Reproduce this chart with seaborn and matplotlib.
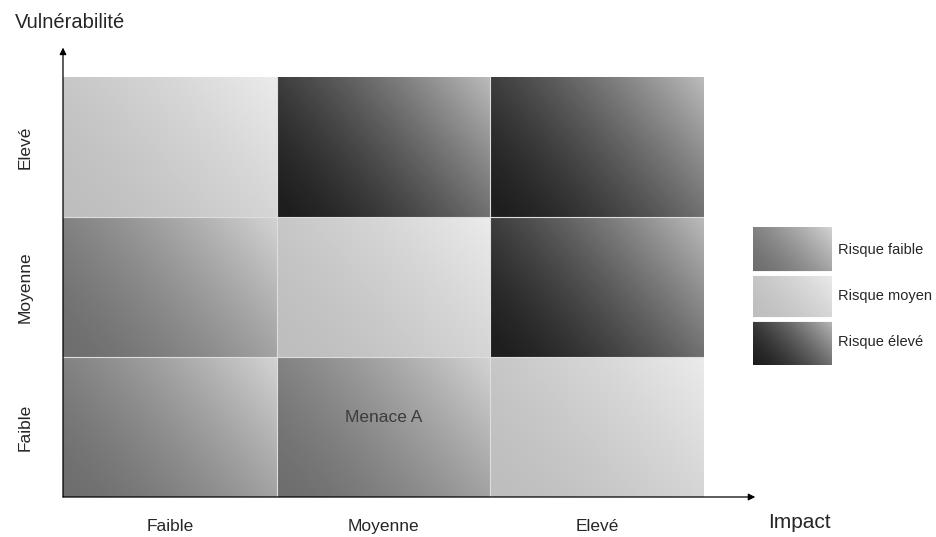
import numpy as np
import pandas as pd
import matplotlib
matplotlib.use('Agg')
import matplotlib.pyplot as plt
from matplotlib.colors import ListedColormap, LinearSegmentedColormap
import seaborn as sns

# ── Data ───────────────────────────────────────────────────────
impact_labels = ['Faible', 'Moyenne', 'Elevé']
vuln_labels = ['Elevé', 'Moyenne', 'Faible']          # top -> bottom
# 0 = Risque faible, 1 = Risque moyen, 2 = Risque élevé
risk_levels = [
    [1, 2, 2],
    [0, 1, 2],
    [0, 0, 1],
]
legend_labels = ['Risque faible', 'Risque moyen', 'Risque élevé']
threat_name = 'Menace A'
threat_cell = ('Faible', 'Moyenne')                   # (vulnérabilité, impact)

level_colors = ['#6e6e6e', '#bebebe', '#1e1e1e']

sns.set_style('white')
plt.rcParams['font.family'] = ['Liberation Sans', 'DejaVu Sans']

risk_cmap = ListedColormap(level_colors)
shade_cmap = LinearSegmentedColormap.from_list(
    'shade', [(1, 1, 1, 0.0), (1, 1, 1, 0.7)])


def shade_cells(ax, n_rows, n_cols):
    # each cell lightens toward its top right corner
    u = np.linspace(0, 1, 120)
    v = np.linspace(1, 0, 80)
    U, V = np.meshgrid(u, v)
    grad = (0.65 * U + 0.35 * V) ** 1.5
    for i in range(n_rows):
        for j in range(n_cols):
            ax.imshow(grad, extent=(j, j + 1, i + 1, i), cmap=shade_cmap,
                      vmin=0, vmax=1, aspect='auto', zorder=2,
                      interpolation='bilinear')
    ax.set_xlim(0, n_cols)
    ax.set_ylim(n_rows, 0)


fig = plt.figure(figsize=(9.37, 5.37), dpi=100)
ax = fig.add_axes([63 / 937, 1 - 497 / 537, 641 / 937, 420 / 537])

risk_df = pd.DataFrame(risk_levels, index=vuln_labels, columns=impact_labels)
sns.heatmap(risk_df, cmap=risk_cmap, vmin=-0.5, vmax=2.5, cbar=False,
            linewidths=0, ax=ax)
shade_cells(ax, len(vuln_labels), len(impact_labels))

# thin light separators between cells
for k in range(1, len(impact_labels)):
    ax.axvline(k, color='#dedede', lw=0.8, zorder=3)
for k in range(1, len(vuln_labels)):
    ax.axhline(k, color='#dedede', lw=0.8, zorder=3)

ax.set_xticklabels(impact_labels, fontsize=12.5, rotation=0)
ax.set_yticklabels(vuln_labels, fontsize=12.5, rotation=90, va='center')
ax.tick_params(axis='x', length=0, pad=16)
ax.tick_params(axis='y', length=0, pad=22)
ax.set_xlabel('')
ax.set_ylabel('')
for s in ax.spines.values():
    s.set_visible(False)

# threat marker
r = vuln_labels.index(threat_cell[0])
c = impact_labels.index(threat_cell[1])
ax.text(c + 0.5, r + 0.43, threat_name, ha='center', va='center',
        fontsize=12.5, color='#3c3c3c', zorder=4)

# axes arrows
arrow = dict(arrowstyle='-|>', color='black', lw=0.9, mutation_scale=10,
             shrinkA=0, shrinkB=0)
ax.annotate('', xy=(0, 1.07), xytext=(0, 0), xycoords='axes fraction',
            arrowprops=arrow, annotation_clip=False)
ax.annotate('', xy=(1.08, 0), xytext=(0, 0), xycoords='axes fraction',
            arrowprops=arrow, annotation_clip=False)

fig.text(15 / 937, 1 - 22 / 537, 'Vulnérabilité', fontsize=14.5,
         ha='left', va='center')
fig.text(768 / 937, 1 - 522 / 537, 'Impact', fontsize=15,
         ha='left', va='center')

# ── Legend swatches ────────────────────────────────────────────
lax = fig.add_axes([753 / 937, 1 - 365 / 537, 79 / 937, 138 / 537])
legend_df = pd.DataFrame({'niveau': [0, 1, 2]}, index=legend_labels)
sns.heatmap(legend_df, cmap=risk_cmap, vmin=-0.5, vmax=2.5, cbar=False,
            linewidths=0, ax=lax)
shade_cells(lax, len(legend_labels), 1)
for k in range(1, len(legend_labels)):
    lax.axhline(k, color='white', lw=3.5, zorder=3)
lax.set_xticks([])
lax.set_yticks([])
lax.set_xlabel('')
lax.set_ylabel('')
for i, lab in enumerate(legend_labels):
    lax.text(1.08, i + 0.5, lab, transform=lax.transData, fontsize=10.5,
             ha='left', va='center', clip_on=False)

fig.savefig('out.png', dpi=100)
